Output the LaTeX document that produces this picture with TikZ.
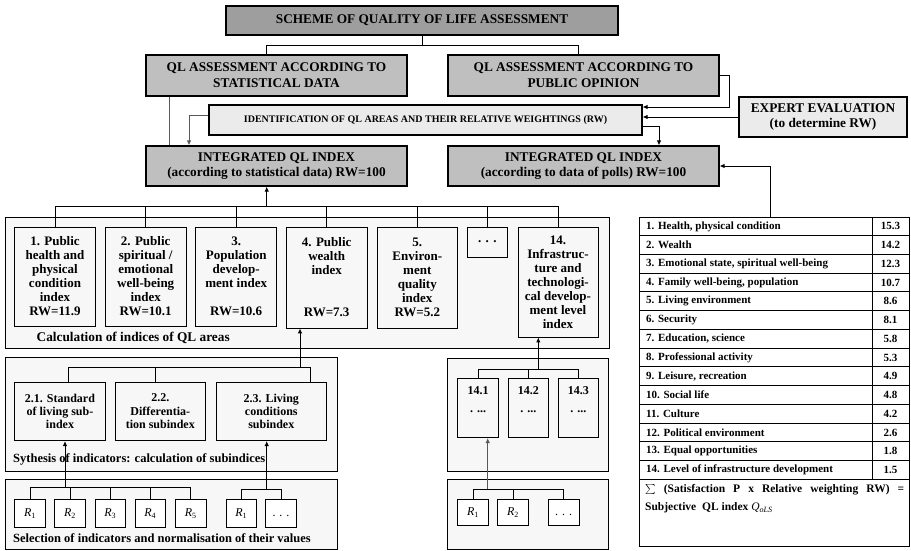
\documentclass[tikz,border=0pt]{standalone}
\usepackage{fontspec}
\setmainfont{Liberation Serif}
\usetikzlibrary{arrows.meta}

\begin{document}
\begin{tikzpicture}[
  x=1pt, y=-1pt,
  every node/.style={font=\bfseries, inner sep=1pt},
  hdrbox/.style={draw, line width=1.2pt, fill=black!25, align=center,
                 font=\fontsize{13.3}{15.7}\selectfont\bfseries},
  ttlbox/.style={hdrbox, fill=black!38},
  lgtbox/.style={hdrbox, fill=black!8},
  frm/.style={draw, line width=0.8pt, fill=black!3},
  idxbox/.style={draw, line width=0.8pt, fill=black!3, align=center,
                 font=\fontsize{13}{14}\selectfont\bfseries},
  subbox/.style={idxbox, font=\fontsize{12}{13.3}\selectfont\bfseries},
  partbox/.style={idxbox, minimum width=40.6, minimum height=59.7,
                  text height=33pt, text depth=24pt,
                  font=\fontsize{12}{18}\selectfont\bfseries},
  indbox/.style={draw, line width=0.8pt, fill=white, minimum width=30.5,
                 text height=8pt, text depth=2pt,
                 font=\fontsize{12}{14}\selectfont\mdseries\itshape},
  caplbl/.style={anchor=west, font=\fontsize{13.3}{15}\selectfont\bfseries},
  tabtxt/.style={font=\fontsize{11}{13}\selectfont\bfseries},
  tabln/.style={line width=1pt},
  ln/.style={line width=0.9pt},
  gln/.style={ln, black!65},
  arr/.style={ln, -{Latex[length=5pt, width=4.5pt]}},
  garr/.style={arr, black!65}
]
\useasboundingbox (0,0) rectangle (911,550);

% top levels
\node[ttlbox, minimum width=392, minimum height=29] (title) at (422,20.5)
  {SCHEME OF QUALITY OF LIFE ASSESSMENT};
\node[hdrbox, minimum width=261, minimum height=41] (stat) at (276.5,75.5)
  {QL ASSESSMENT ACCORDING TO\\STATISTICAL DATA};
\node[hdrbox, minimum width=271, minimum height=41] (opin) at (583.5,75.5)
  {QL ASSESSMENT ACCORDING TO\\PUBLIC OPINION};
\node[lgtbox, minimum width=433, minimum height=30,
      font=\fontsize{10}{12}\selectfont\bfseries] (ident) at (425.5,120)
  {IDENTIFICATION OF QL AREAS AND THEIR RELATIVE WEIGHTINGS (RW)};
\node[lgtbox, minimum width=168, minimum height=40] (expert) at (823,117)
  {EXPERT EVALUATION\\(to determine RW)};
\node[hdrbox, minimum width=261, minimum height=40] (intstat) at (276.5,166)
  {INTEGRATED QL INDEX\\(according to statistical data) RW=100};
\node[hdrbox, minimum width=271, minimum height=40] (intpoll) at (583.5,166)
  {INTEGRATED QL INDEX\\(according to data of polls) RW=100};

% frames
\node[frm, minimum width=604, minimum height=131] (calc) at (307,282.5) {};
\node[frm, minimum width=332, minimum height=113.5] (synth) at (171,414.2) {};
\node[frm, minimum width=332, minimum height=70] (sel) at (171,514) {};
\node[frm, minimum width=161, minimum height=113.4] (partfrm) at (528.2,415) {};
\node[frm, minimum width=161, minimum height=70] (selfrm) at (528.2,514) {};

% indices of QL areas
\node[idxbox, minimum width=81.4, minimum height=99] (a1) at (55,276.5)
  {1. Public\\health and\\physical\\condition\\index\\RW=11.9};
\node[idxbox, minimum width=80.7, minimum height=99] (a2) at (145.7,276.5)
  {2. Public\\spiritual /\\emotional\\well-being\\index\\RW=10.1};
\node[idxbox, minimum width=81, minimum height=99] (a3) at (236.2,276.5)
  {3.\\Population\\develop-\\ment index\\[14pt]RW=10.6};
\node[idxbox, minimum width=80.7, minimum height=101] (a4) at (326.7,277.5)
  {4. Public\\wealth\\index\\[28pt]RW=7.3};
\node[idxbox, minimum width=80.7, minimum height=101] (a5) at (417.3,277.5)
  {5.\\Environ-\\ment\\quality\\index\\RW=5.2};
\node[idxbox, minimum width=40.7, minimum height=30] (adots) at (487.3,242)
  {. . .};
\node[idxbox, minimum width=80, minimum height=110] (a14) at (558,282)
  {14.\\Infrastruc-\\ture and\\technologi-\\cal develop-\\ment level\\index};
\node[caplbl] (calclbl) at (35.5,337.7) {Calculation of indices of QL areas};

% subindices
\node[subbox, minimum width=91.4, minimum height=58.7] (s1) at (60,411.3)
  {2.1. Standard\\of living sub-\\index};
\node[subbox, minimum width=90.7, minimum height=58.7] (s2) at (160.3,411.3)
  {2.2.\\Differentia-\\tion subindex};
\node[subbox, minimum width=110.7, minimum height=58.7] (s3) at (271.3,411.3)
  {2.3. Living\\conditions\\subindex};
\node[caplbl, font=\fontsize{12.5}{14}\selectfont\bfseries] (synlbl) at (12,459.3)
  {Sythesis of indicators: calculation of subindices};

% indicators
\node[indbox, minimum height=28] (i1) at (30,513.3) {R\textsubscript{\upshape 1}};
\node[indbox, minimum height=28] (i2) at (70,513.3) {R\textsubscript{\upshape 2}};
\node[indbox, minimum height=28] (i3) at (110.3,513.3) {R\textsubscript{\upshape 3}};
\node[indbox, minimum height=28] (i4) at (150.3,513.3) {R\textsubscript{\upshape 4}};
\node[indbox, minimum height=28] (i5) at (190.7,513.3) {R\textsubscript{\upshape 5}};
\node[indbox, minimum height=28] (i6) at (241.3,513.3) {R\textsubscript{\upshape 1}};
\node[indbox, minimum height=28] (idots) at (281,513.3) {\upshape . . .};
\node[caplbl, font=\fontsize{12.5}{14}\selectfont\bfseries] (sellbl) at (12,538.3)
  {Selection of indicators and normalisation of their values};

% parts of index 14
\node[partbox] (b1) at (478,407.8) {14.1\\. ...};
\node[partbox] (b2) at (528.3,407.8) {14.2\\. ...};
\node[partbox] (b3) at (578.3,407.8) {14.3\\. ...};
\node[indbox, minimum height=25.7] (q1) at (473,512.2) {R\textsubscript{\upshape 1}};
\node[indbox, minimum height=25.7] (q2) at (513,512.2) {R\textsubscript{\upshape 2}};
\node[indbox, minimum height=25.7] (qdots) at (563.7,512.2) {\upshape . . .};

% table of relative weightings
\node[draw, line width=1pt, minimum width=270, minimum height=329.7] (tab) at (774.3,381.85) {};
\foreach \i/\area/\rw in {1/{1. Health, physical condition}/15.3,
    2/{2. Wealth}/14.2, 3/{3. Emotional state, spiritual well-being}/12.3,
    4/{4. Family well-being, population}/10.7, 5/{5. Living environment}/8.6,
    6/{6. Security}/8.1, 7/{7. Education, science}/5.8,
    8/{8. Professional activity}/5.3, 9/{9. Leisure, recreation}/4.9,
    10/{10. Social life}/4.8, 11/{11. Culture}/4.2,
    12/{12. Political environment}/2.6, 13/{13. Equal opportunities}/1.8,
    14/{14. Level of infrastructure development}/1.5} {
  \node[tabtxt, anchor=west] (area\i) at (645,{217+(\i-0.5)*18.736}) {\area};
  \node[tabtxt] (rw\i) at (890.5,{217+(\i-0.5)*18.736}) {\rw};
  \draw[tabln] (639.3,{217+\i*18.736}) -- (909.3,{217+\i*18.736});
}
\draw[tabln] (872,217) -- (872,479.3);
\node[tabtxt, anchor=north west, align=left, font=\fontsize{11.5}{18}\selectfont\bfseries]
  (sumtxt) at (644,483)
  {\makebox[259pt][s]{$\sum$ (Satisfaction P x Relative weighting RW) =}\\
   Subjective\ \ QL index \textit{\mdseries Q}\textsubscript{\itshape\mdseries oLS}};

% connectors, top
\draw[ln] (title.south) -- ++(0,10) coordinate (tbus);
\draw[ln] ([xshift=-9.8pt]stat.north) |- (tbus) -| ([xshift=-5.2pt]opin.north);
\draw[gln] ([xshift=-107.5pt]stat.south) -- ([xshift=-107.5pt]intstat.north);
\draw[garr] ([yshift=5pt]ident.west) -| ([xshift=-87.5pt]intstat.north);
\draw[arr] (opin.east) -- ++(10,0) |- ([yshift=13pt]ident.east);
\draw[arr] (expert.west) -- (expert.west -| ident.east);
\draw[arr] ([yshift=-6pt]ident.east) -| ([xshift=75.5pt]intpoll.north);
\draw[arr] ([xshift=-4.3pt]tab.north) |- (intpoll.east);

% connectors, indices
\coordinate (cbus) at (0,206.5);
\coordinate (intin) at ([xshift=-9.8pt]intstat.south);
\draw[ln] (a1.north) |- (a14.north |- cbus) -- (a14.north);
\foreach \n in {a2,a3,a4,a5,adots} \draw[ln] (\n.north) -- (\n.north |- cbus);
\draw[arr] (intin |- cbus) -- (intin);

% connectors, subindices
\coordinate (sbus) at (0,367.3);
\coordinate (s1t) at ([xshift=8.3pt]s1.north);
\coordinate (s2t) at ([xshift=-5pt]s2.north);
\coordinate (s3t) at ([xshift=38.7pt]s3.north);
\coordinate (a4in) at ([xshift=-26.7pt]a4.south);
\draw[ln] (s1t) |- (s3t |- sbus) -- (s3t);
\draw[ln] (s2t) -- (s2t |- sbus);
\draw[arr] (a4in |- sbus) -- (a4in);

% connectors, indicators
\coordinate (ibus) at (0,487.7);
\coordinate (jbus) at (0,489.3);
\coordinate (s1in) at ([xshift=5pt]s1.south);
\coordinate (s3in) at ([xshift=-4.6pt]s3.south);
\draw[ln] (i1.north) |- (i5.north |- ibus) -- (i5.north);
\foreach \n in {i2,i3,i4} \draw[ln] (\n.north) -- (\n.north |- ibus);
\draw[arr] (s1in |- ibus) -- (s1in);
\draw[ln] (i6.north) |- (idots.north |- jbus) -- (idots.north);
\draw[arr] (s3in |- jbus) -- (s3in);

% connectors, index 14
\coordinate (bbus) at (0,369);
\coordinate (a14in) at ([xshift=-19.7pt]a14.south);
\coordinate (b1in) at ([xshift=9.7pt]b1.south);
\draw[ln] (b1.north) |- (b3.north |- bbus) -- (b3.north);
\draw[ln] (b2.north) -- (b2.north |- bbus);
\draw[arr] (a14in |- bbus) -- (a14in);
\draw[ln] (q1.north) |- (qdots.north |- jbus) -- (qdots.north);
\draw[ln] (q2.north) -- (q2.north |- jbus);
\draw[garr] (b1in |- jbus) -- (b1in);
\end{tikzpicture}
\end{document}
